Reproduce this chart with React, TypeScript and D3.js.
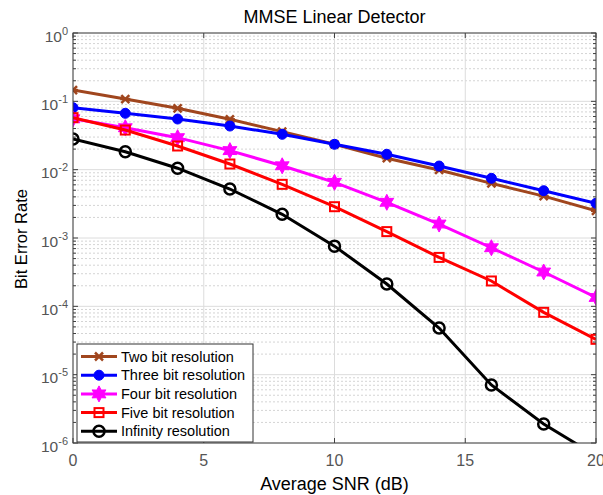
import React from 'react';
import * as d3 from 'd3';

const snr = [0, 2, 4, 6, 8, 10, 12, 14, 16, 18, 20];
const twoBit = [0.146, 0.108, 0.079, 0.0546, 0.036, 0.0235, 0.0147, 0.0099, 0.0063, 0.0041, 0.0025];
const threeBit = [0.0807, 0.0668, 0.0551, 0.0435, 0.0329, 0.0235, 0.0168, 0.0113, 0.00747, 0.00492, 0.00322];
const fourBit = [0.0555, 0.0411, 0.0294, 0.019, 0.0114, 0.00653, 0.00333, 0.0016, 0.00072, 0.000318, 0.000135];
const fiveBit = [0.0577, 0.038, 0.0222, 0.0121, 0.0061, 0.00287, 0.00124, 0.00052, 0.000235, 0.0000817, 0.0000329];
const infinity = [0.0281, 0.0183, 0.0105, 0.00521, 0.00222, 0.00076, 0.000212, 0.0000482, 0.00000706, 0.0000019, 0.00000065];

const xTicks = [0, 5, 10, 15, 20];
const yExponents = [0, -1, -2, -3, -4, -5, -6];

const series = [
  { name: 'Two bit resolution', color: '#A0461E', marker: 'x', values: twoBit },
  { name: 'Three bit resolution', color: '#0000FF', marker: 'dot', values: threeBit },
  { name: 'Four bit resolution', color: '#FF00FF', marker: 'star', values: fourBit },
  { name: 'Five bit resolution', color: '#FF0000', marker: 'square', values: fiveBit },
  { name: 'Infinity resolution', color: '#000000', marker: 'circle', values: infinity },
];

const width = 603;
const height = 495;
const margin = { top: 33, right: 7, bottom: 52, left: 73 };
const innerW = width - margin.left - margin.right;
const innerH = height - margin.top - margin.bottom;

const hexagram = (r: number) => {
  const pts: string[] = [];
  for (let i = 0; i < 12; i++) {
    const a = (Math.PI / 6) * i - Math.PI / 2;
    const rr = i % 2 === 0 ? r : r * 0.55;
    pts.push(`${(rr * Math.cos(a)).toFixed(2)},${(rr * Math.sin(a)).toFixed(2)}`);
  }
  return pts.join(' ');
};

const Marker = ({ kind, color, x, y }: { kind: string; color: string; x: number; y: number }) => {
  if (kind === 'x') {
    return (
      <g transform={`translate(${x},${y})`} stroke={color} strokeWidth={2.5}>
        <line x1={-4} y1={-4} x2={4} y2={4} />
        <line x1={-4} y1={4} x2={4} y2={-4} />
        <line x1={-5} y1={0} x2={5} y2={0} />
      </g>
    );
  }
  if (kind === 'dot') return <circle cx={x} cy={y} r={5} fill={color} stroke={color} />;
  if (kind === 'star')
    return <polygon transform={`translate(${x},${y})`} points={hexagram(8)} fill={color} stroke={color} strokeWidth={1} />;
  if (kind === 'square')
    return <rect x={x - 4.5} y={y - 4.5} width={9} height={9} fill="none" stroke={color} strokeWidth={2} />;
  return <circle cx={x} cy={y} r={5.5} fill="none" stroke={color} strokeWidth={2.5} />;
};

export default function App() {
  const x = d3.scaleLinear().domain([0, 20]).range([0, innerW]);
  const y = d3.scaleLog().domain([1e-6, 1]).range([innerH, 0]);

  const line = d3
    .line<number>()
    .x((_, i) => x(snr[i]))
    .y(d => y(d));

  const minor: number[] = [];
  for (let e = -6; e < 0; e++) {
    for (let m = 2; m <= 9; m++) minor.push(m * Math.pow(10, e));
  }

  const legendX = 4;
  const legendY = innerH - 99;
  const rowH = 18.7;

  return (
    <svg width={width} height={height} style={{ position: 'absolute', left: 0, top: 0 }} fontFamily="Arial, 'Liberation Sans', sans-serif">
      <rect width={width} height={height} fill="#fff" />
      <text x={334.5} y={23} textAnchor="middle" fontSize={18}>
        MMSE Linear Detector
      </text>
      <g transform={`translate(${margin.left},${margin.top})`}>
        <defs>
          <clipPath id="plotClip">
            <rect width={innerW} height={innerH} />
          </clipPath>
        </defs>
        {/* minor grid */}
        {minor.map(v => (
          <line key={'m' + v} x1={0} x2={innerW} y1={y(v)} y2={y(v)} stroke="#d4d4d4" strokeWidth={1} strokeDasharray="2,2" />
        ))}
        {/* major grid */}
        {yExponents.map(e => (
          <line key={'g' + e} x1={0} x2={innerW} y1={y(Math.pow(10, e))} y2={y(Math.pow(10, e))} stroke="#dcdcdc" strokeWidth={1} />
        ))}
        {xTicks.map(t => (
          <line key={'gx' + t} x1={x(t)} x2={x(t)} y1={0} y2={innerH} stroke="#dcdcdc" strokeWidth={1} />
        ))}
        {/* ticks */}
        {xTicks.map(t => (
          <g key={'tx' + t} stroke="#404040">
            <line x1={x(t)} x2={x(t)} y1={innerH} y2={innerH - 5} />
            <line x1={x(t)} x2={x(t)} y1={0} y2={5} />
          </g>
        ))}
        {yExponents.map(e => (
          <g key={'ty' + e} stroke="#404040">
            <line x1={0} x2={5} y1={y(Math.pow(10, e))} y2={y(Math.pow(10, e))} />
            <line x1={innerW} x2={innerW - 5} y1={y(Math.pow(10, e))} y2={y(Math.pow(10, e))} />
          </g>
        ))}
        {minor.map(v => (
          <g key={'mt' + v} stroke="#404040">
            <line x1={0} x2={3} y1={y(v)} y2={y(v)} />
            <line x1={innerW} x2={innerW - 3} y1={y(v)} y2={y(v)} />
          </g>
        ))}
        {/* series */}
        <g clipPath="url(#plotClip)">
          {series.map(s => (
            <g key={s.name}>
              <path d={line(s.values) || ''} fill="none" stroke={s.color} strokeWidth={3} />
              {s.values.map((v, i) => (
                <Marker key={i} kind={s.marker} color={s.color} x={x(snr[i])} y={y(v)} />
              ))}
            </g>
          ))}
        </g>
        <rect width={innerW} height={innerH} fill="none" stroke="#404040" strokeWidth={1} />
        {/* axis labels */}
        {xTicks.map(t => (
          <text key={'lx' + t} x={x(t)} y={innerH + 23} textAnchor="middle" fontSize={16} fill="#555">
            {t}
          </text>
        ))}
        {yExponents.map(e => (
          <text key={'ly' + e} x={-5} y={y(Math.pow(10, e)) + 8.5} textAnchor="end" fontSize={15.5} fill="#555">
            10<tspan dy={-7} fontSize={11}>{e}</tspan>
          </text>
        ))}
        {/* legend */}
        <g transform={`translate(${legendX},${legendY})`}>
          <rect width={176} height={98} fill="#fff" stroke="#333" strokeWidth={1} />
          {series.map((s, i) => {
            const ry = 12.5 + i * rowH;
            return (
              <g key={'lg' + s.name}>
                <line x1={4} x2={40} y1={ry} y2={ry} stroke={s.color} strokeWidth={3} />
                <Marker kind={s.marker} color={s.color} x={22} y={ry} />
                <text x={44} y={ry + 5} fontSize={14.5} fill="#000">
                  {s.name}
                </text>
              </g>
            );
          })}
        </g>
      </g>
      <text x={334.5} y={490} textAnchor="middle" fontSize={18}>
        Average SNR (dB)
      </text>
      <text transform={`translate(27,${margin.top + innerH / 2 + 1}) rotate(-90)`} textAnchor="middle" fontSize={16.5}>
        Bit Error Rate
      </text>
    </svg>
  );
}
